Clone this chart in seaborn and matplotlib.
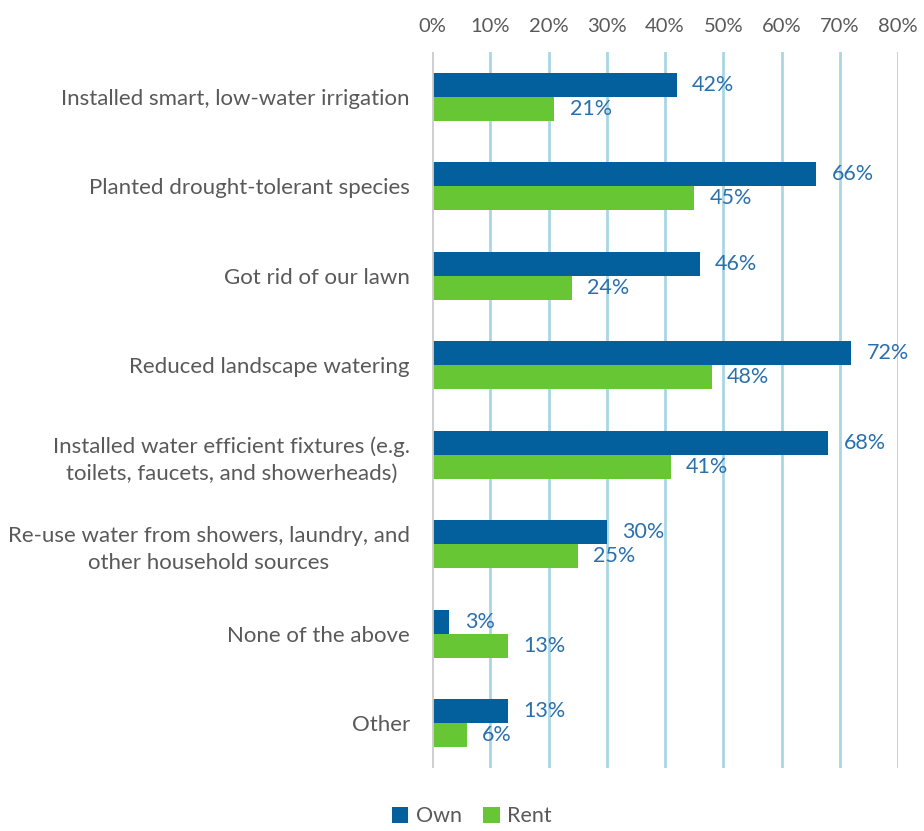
import matplotlib
matplotlib.use("Agg")
import matplotlib.pyplot as plt
import seaborn as sns
import pandas as pd
from matplotlib.ticker import PercentFormatter

categories = [
    "Installed smart, low-water irrigation",
    "Planted drought-tolerant species",
    "Got rid of our lawn",
    "Reduced landscape watering",
    "Installed water efficient fixtures (e.g.\ntoilets, faucets, and showerheads)",
    "Re-use water from showers, laundry, and\nother household sources",
    "None of the above",
    "Other",
]
own = [42, 66, 46, 72, 68, 30, 3, 13]
rent = [21, 45, 24, 48, 41, 25, 13, 6]
series = ["Own", "Rent"]
x_ticks = [0, 10, 20, 30, 40, 50, 60, 70, 80]

df = pd.DataFrame({
    "category": categories * 2,
    "value": [v / 100 for v in own] + [v / 100 for v in rent],
    "group": ["Own"] * len(categories) + ["Rent"] * len(categories),
})

sns.set_theme(style="white")
plt.rcParams["font.family"] = ["Lato", "DejaVu Sans"]

fig = plt.figure(figsize=(9.24, 8.31), dpi=100)
ax = fig.add_axes([432 / 924, 1 - 768 / 831, (898 - 432) / 924, (768 - 52) / 831])

palette = {"Own": "#03609D", "Rent": "#66C633"}
sns.barplot(data=df, y="category", x="value", hue="group", hue_order=series,
            order=categories, palette=palette, orient="h", width=0.535,
            saturation=1, linewidth=0, ax=ax, legend=True)

ax.set_xlim(0, 0.8)
ax.set_xticks([t / 100 for t in x_ticks])
ax.xaxis.set_major_formatter(PercentFormatter(1.0, decimals=0))
ax.xaxis.tick_top()
ax.tick_params(axis="x", length=0, pad=12, labelsize=14.5, labelcolor="#595959")
ax.tick_params(axis="y", length=0, pad=16, labelsize=16, labelcolor="#595959")
ax.set_xlabel("")
ax.set_ylabel("")
for lbl in ax.get_yticklabels():
    lbl.set_horizontalalignment("right")
    lbl.set_multialignment("center")
    lbl.set_linespacing(1.45)

ax.grid(axis="x", color="#A9D6E5", linewidth=2)
ax.set_axisbelow(True)
for s in ax.spines.values():
    s.set_visible(False)
ax.axvline(0, color="#D0D0D0", linewidth=2, zorder=1)

for cont in ax.containers:
    ax.bar_label(cont, labels=[f"{round(v * 100)}%" for v in cont.datavalues],
                 padding=11, color="#2A70AE", fontsize=15.5)

ax.legend(ncol=2, frameon=False, fontsize=15.5, handlelength=0.75,
          handleheight=0.75, columnspacing=1.0, handletextpad=0.35,
          labelcolor="#595959", loc="lower center", borderaxespad=0,
          bbox_to_anchor=(472 / 924, -4 / 831), bbox_transform=fig.transFigure)

fig.savefig("out.png", dpi=100)
